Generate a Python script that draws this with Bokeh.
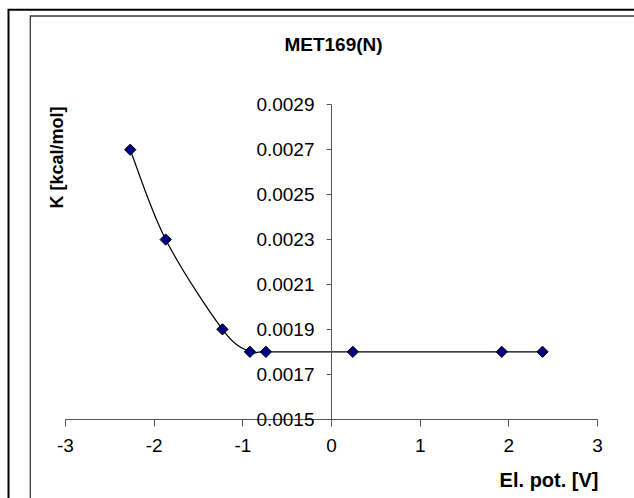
import numpy as np
from bokeh.plotting import figure
from bokeh.models import LinearAxis, FixedTicker, PrintfTickFormatter, Label, Range1d
from bokeh.embed import file_html
from bokeh.resources import INLINE

# ---- data ----
potential = [-2.27, -1.87, -1.23, -0.92, -0.74, 0.24, 1.92, 2.38]
k_values = [0.0027, 0.0023, 0.0019, 0.0018, 0.0018, 0.0018, 0.0018, 0.0018]
x_ticks = [-3, -2, -1, 0, 1, 2, 3]
y_ticks = [0.0015, 0.0017, 0.0019, 0.0021, 0.0023, 0.0025, 0.0027, 0.0029]
title_text = "MET169(N)"
x_label = "El. pot. [V]"
y_label = "K [kcal/mol]"

# ---- layout (picture pixels) ----
W, H = 634, 498
OFF = 0
X0_PX, X3_PX = 331.0, 597.0
Y15_PX, Y29_PX = 418.7, 104.3
sx = (X3_PX - X0_PX) / 3.0
sy = (Y15_PX - Y29_PX) / (0.0029 - 0.0015)


def px2x(px):
    return (px - X0_PX) / sx


def px2y(py):
    return 0.0015 + (Y15_PX - py) / sy


p = figure(width=W, height=H,
           x_range=Range1d(px2x(OFF), px2x(OFF + W)),
           y_range=Range1d(px2y(OFF + H), px2y(OFF)),
           output_backend="svg", toolbar_location=None,
           x_axis_type=None, y_axis_type=None,
           min_border=0, min_border_left=0, min_border_right=0,
           min_border_top=0, min_border_bottom=0)
p.outline_line_color = None
p.background_fill_color = "white"
p.border_fill_color = "white"

# frames
p.line([px2x(8), px2x(8), px2x(660)], [px2y(520), px2y(9.3), px2y(9.3)],
       line_color="black", line_width=2, line_join="miter")
p.line([px2x(29.8), px2x(29.8), px2x(660)], [px2y(520), px2y(15.5), px2y(15.5)],
       line_color="#3a3a3a", line_width=1.3, line_join="miter")

# axes
AX_COL = "#555555"
xaxis = LinearAxis(fixed_location=0.0015, bounds=(-3, 3), ticker=FixedTicker(ticks=x_ticks),
                   formatter=PrintfTickFormatter(format="%d"))
yaxis = LinearAxis(fixed_location=0, bounds=(0.0015, 0.0029), ticker=FixedTicker(ticks=y_ticks),
                   formatter=PrintfTickFormatter(format="%.4f"))
for ax, tick_out, standoff in ((xaxis, 7, 13), (yaxis, 5, 12)):
    ax.axis_line_color = AX_COL
    ax.axis_line_width = 1
    ax.major_tick_line_color = AX_COL
    ax.major_tick_in = 0
    ax.major_tick_out = tick_out
    ax.minor_tick_in = 0
    ax.minor_tick_out = 0
    ax.minor_tick_line_color = None
    ax.major_label_text_font = "Liberation Sans"
    ax.major_label_text_font_size = "19px"
    ax.major_label_text_color = "black"
    ax.major_label_standoff = standoff
p.add_layout(xaxis, "below")
p.add_layout(yaxis, "left")

# smoothed line (Excel-style Catmull-Rom Bezier through the points)
P = np.column_stack([potential, k_values])
E = np.vstack([P[0], P, P[-1]])
x0, y0, x1, y1, cx0, cy0, cx1, cy1 = ([] for _ in range(8))
for i in range(len(P) - 1):
    a, b, c, d = E[i], E[i + 1], E[i + 2], E[i + 3]
    c1 = b + (c - a) / 6.0
    c2 = c - (d - b) / 6.0
    x0.append(b[0]); y0.append(b[1]); x1.append(c[0]); y1.append(c[1])
    cx0.append(c1[0]); cy0.append(c1[1]); cx1.append(c2[0]); cy1.append(c2[1])
p.bezier(x0=x0, y0=y0, x1=x1, y1=y1, cx0=cx0, cy0=cy0, cx1=cx1, cy1=cy1,
         line_color="black", line_width=1.2)

p.scatter(potential, k_values, marker="square", angle=np.pi / 4, size=8,
          fill_color="#000080", line_color="black", line_width=1)

# texts
p.add_layout(Label(x=px2x(333), y=px2y(44), text=title_text, text_align="center",
                   text_baseline="middle", text_font="Liberation Sans",
                   text_font_style="bold", text_font_size="19px", text_color="black"))
p.add_layout(Label(x=px2x(56), y=px2y(157), text=y_label, angle=np.pi / 2,
                   text_align="center", text_baseline="middle", text_font="Liberation Sans",
                   text_font_style="bold", text_font_size="18px", text_color="black"))
p.add_layout(Label(x=px2x(598), y=px2y(479), text=x_label, text_align="right",
                   text_baseline="middle", text_font="Liberation Sans",
                   text_font_style="bold", text_font_size="20px", text_color="black"))

open("out.html", "w").write(file_html(p, INLINE))
